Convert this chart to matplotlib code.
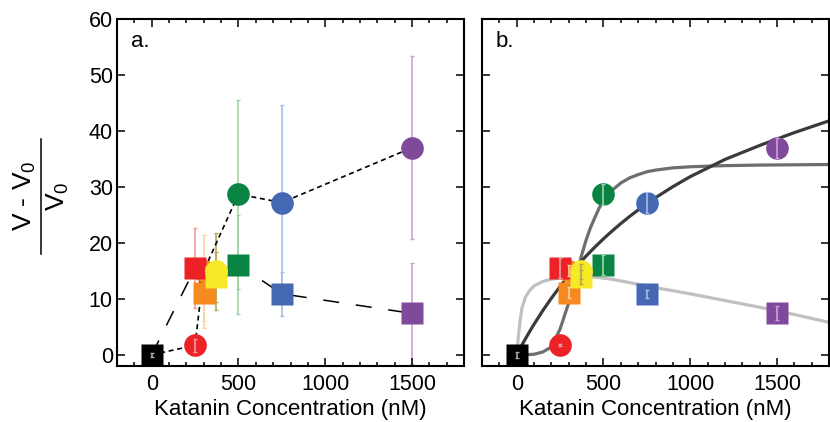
import matplotlib
matplotlib.use('Agg')
import matplotlib.pyplot as plt
from matplotlib.lines import Line2D
from matplotlib.ticker import MultipleLocator

plt.rcParams['font.family'] = ['Liberation Sans', 'DejaVu Sans']
plt.rcParams['mathtext.fontset'] = 'custom'
plt.rcParams['mathtext.rm'] = 'Liberation Sans'
plt.rcParams['mathtext.it'] = 'Liberation Sans'

# control (no katanin)
ctrl_x = 0
ctrl_y = 0.0
ctrl_sd = 0.4
ctrl_sem = 0.5

# katanin concentrations (nM)
conc = [250, 300, 370, 500, 750, 1500]

# circles
circ_y = [1.7, 15.0, 14.9, 28.7, 27.2, 37.0]
circ_sd_lo = [1.2, 10.2, 6.9, 16.9, 17.4, 16.3]
circ_sd_hi = [1.2, 6.4, 6.9, 16.9, 17.4, 16.3]
circ_sem = [0.2, 1.0, 1.3, 1.9, 1.9, 1.8]

# squares
sq_y = [15.5, 11.1, 13.9, 16.1, 10.9, 7.4]
sq_sd = [7.1, 5.0, 4.5, 8.8, 3.9, 9.0]
sq_sem = [1.8, 1.0, 1.3, 1.8, 0.75, 1.25]

# fitted curves in panel b
curve_x = [0, 10, 20, 30, 50, 75, 100, 150, 200, 250, 300, 325, 350, 375, 400,
           425, 450, 475, 500, 525, 550, 600, 650, 700, 750, 800, 900, 1000,
           1200, 1400, 1600, 1800]
curve_dark = [0, 0.59, 1.17, 1.73, 2.84, 4.18, 5.46, 7.88, 10.12, 12.2, 14.14,
              15.06, 15.94, 16.81, 17.64, 18.44, 19.23, 19.98, 20.72, 21.43,
              22.12, 23.45, 24.7, 25.88, 27.0, 28.07, 30.04, 31.83,
              34.9, 37.4, 39.7, 41.8]
curve_mid = [0, 0, 0, 0, 0.02, 0.05, 0.1, 0.5, 1.4, 4.6, 9.3, 12.2, 15.0, 17.9,
             20.5, 22.7, 24.5, 26.2, 27.6, 28.6, 29.4, 30.7, 31.6, 32.2, 32.7,
             33.0, 33.4, 33.6, 33.8, 33.9, 33.95, 34.0]
curve_light = [0, 3.3, 6.2, 8.3, 10.3, 11.5, 12.3, 13.1, 13.5, 13.75, 13.9,
               13.95, 14.0, 14.0, 14.0, 13.95, 13.9, 13.8, 13.7, 13.6, 13.5,
               13.2, 12.9, 12.6, 12.3, 12.0, 11.45, 10.9, 9.7, 8.5, 7.2, 5.8]

colors = ['#ec2227', '#f6891f', '#f7e928', '#0a8442', '#4469b2', '#7f499c']
err_colors = ['#f49b9c', '#fcd2a6', '#b2ab52', '#a2d3a9', '#a8bde4', '#c9a4d3']

fig = plt.figure(figsize=(8.3, 4.22), dpi=100)
ax_a = fig.add_axes([117/830, 56/422, 347/830, 347/422])
ax_b = fig.add_axes([482/830, 56/422, 347/830, 347/422])

ms = 16.3
eb = dict(fmt='none', elinewidth=1.2, capsize=1.5, capthick=1.0)


def style_axes(ax, letter, show_y):
    ax.set_xlim(-200, 1800)
    ax.set_ylim(-2, 60)
    ax.set_xticks([0, 500, 1000, 1500])
    ax.xaxis.set_minor_locator(MultipleLocator(100))
    ax.set_yticks(range(0, 61, 10))
    ax.tick_params(which='both', direction='in', top=True, right=True,
                   width=1.1, labelsize=15.5)
    ax.tick_params(which='major', length=5.5)
    ax.tick_params(which='minor', length=3)
    ax.tick_params(axis='x', pad=6)
    ax.tick_params(axis='y', pad=3, labelleft=show_y)
    for s in ax.spines.values():
        s.set_linewidth(1.5)
    ax.set_xlabel('Katanin Concentration (nM)', fontsize=16, labelpad=3)
    ax.text(0.04, 0.965, letter, transform=ax.transAxes, fontsize=16,
            ha='left', va='top')


# ---- panel a ----
ax = ax_a
idx_dot = [0, 1, 3, 4, 5]
ax.plot([ctrl_x] + [conc[i] for i in idx_dot], [ctrl_y] + [circ_y[i] for i in idx_dot],
        color='black', lw=1.2, ls=(0, (3, 2.2)), zorder=2)
ax.plot([ctrl_x] + conc, [ctrl_y] + sq_y, color='black', lw=1.1,
        ls=(0, (10.5, 11)), zorder=2)

ax.errorbar([ctrl_x], [ctrl_y], yerr=[ctrl_sd], ecolor='#aaaaaa', zorder=6, **eb)
for i in range(len(conc)):
    zc = 6 if circ_sd_hi[i] < 2 else 1
    ax.errorbar([conc[i]], [circ_y[i]], yerr=[[circ_sd_lo[i]], [circ_sd_hi[i]]],
                ecolor=err_colors[i], zorder=zc, **eb)
    ax.errorbar([conc[i]], [sq_y[i]], yerr=[sq_sd[i]],
                ecolor=err_colors[i], zorder=1, **eb)

# ---- panel b ----
ax = ax_b
ax.plot(curve_x, curve_light, color='#c0c0c0', lw=2.3, zorder=2)
ax.plot(curve_x, curve_mid, color='#6e6e6e', lw=2.3, zorder=2)
ax.plot(curve_x, curve_dark, color='#3a3a3a', lw=2.3, zorder=2)

ax.errorbar([ctrl_x], [ctrl_y], yerr=[ctrl_sem], ecolor='#aaaaaa', zorder=6, **eb)
for i in range(len(conc)):
    ax.errorbar([conc[i]], [circ_y[i]], yerr=[circ_sem[i]],
                ecolor=err_colors[i], zorder=6, **eb)
    ax.errorbar([conc[i]], [sq_y[i]], yerr=[sq_sem[i]],
                ecolor=err_colors[i], zorder=6, **eb)

# markers, same in both panels
for ax in (ax_a, ax_b):
    ax.plot([ctrl_x], [ctrl_y], 's', ms=ms, color='black', mec='none', zorder=3)
    for i in range(len(conc)):
        zc = 2.5 if i == 1 else 4
        ax.plot([conc[i]], [circ_y[i]], 'o', ms=ms, color=colors[i], mec='none', zorder=zc)
        ax.plot([conc[i]], [sq_y[i]], 's', ms=ms, color=colors[i], mec='none', zorder=3)

style_axes(ax_a, 'a.', True)
style_axes(ax_b, 'b.', False)

# y label drawn as a fraction: numerator, bar, denominator
fig.text(25/830, 1 - 196/422, 'V - V$_0$', rotation=90, fontsize=19,
         ha='center', va='center')
fig.text(58/830, 1 - 196/422, 'V$_0$', rotation=90, fontsize=19,
         ha='center', va='center')
fig.add_artist(Line2D([40.7/830, 40.7/830], [1 - 139/422, 1 - 254/422],
                      color='black', lw=1.1))

fig.savefig('out.png', dpi=100)
